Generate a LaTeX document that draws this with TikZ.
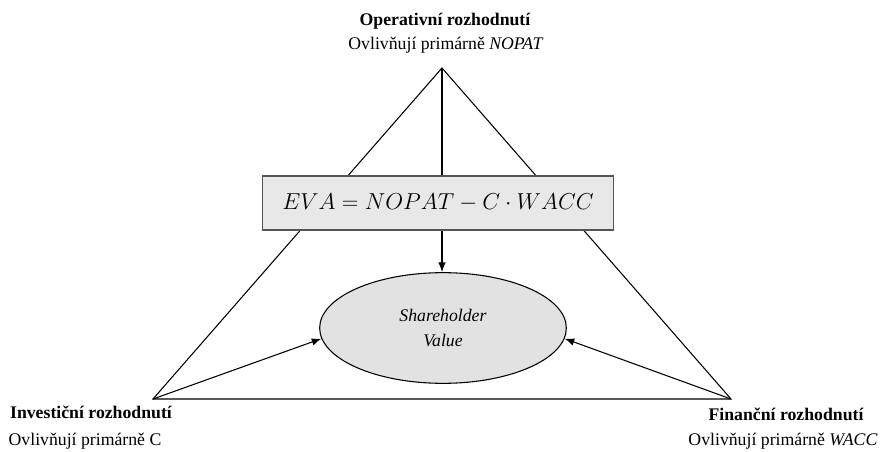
\documentclass[tikz,border=0pt]{standalone}
\usepackage{fontspec}
\setmainfont{Liberation Serif}
\usepackage{tikz}
\usetikzlibrary{arrows.meta,
shapes.geometric,
positioning
}
\tikzset{>={Latex[scale=1.1]}}
\definecolor{boxgray}{RGB}{232,232,232}
\definecolor{ellgray}{RGB}{226,226,226}
\definecolor{framegray}{RGB}{85,85,85}

\begin{document}
\begin{tikzpicture}[x=0.75pt, y=-0.75pt, line width=0.8pt,
    decision/.style={font=\fontsize{13.3}{16}\selectfont\bfseries, anchor=base},
    effect/.style={font=\fontsize{13.3}{16}\selectfont, anchor=base},
    evabox/.style={draw=framegray, fill=boxgray, minimum width=263pt, minimum height=40.5pt, inner sep=0pt, font=\LARGE},
    valueell/.style={ellipse, draw, fill=ellgray, minimum width=185pt, minimum height=83pt, inner sep=0pt, align=center, font=\fontsize{13.3}{19}\selectfont\itshape}]
    \useasboundingbox (0,0) rectangle (882,452);

    % corners of the triangle
    \coordinate (op) at (442,68);
    \coordinate (inv) at (153,399);
    \coordinate (fin) at (731,399);

    \draw (op) -- (inv) -- (fin) -- cycle;

    \node[evabox] (eva) at (438,203) {$EVA = NOPAT - C \cdot WACC$};
    \node[valueell] (sv) at (443,328) {Shareholder\\Value};

    \draw (op) -- (op |- eva.north);
    \draw[->] (op |- eva.south) -- (op |- sv.north);
    \draw[->] (inv) -- (sv.185);
    \draw[->] (fin) -- (sv.355);

    % labels
    \node[decision] (optitle) at (445,26) {Operativní rozhodnutí};
    \node[effect] (opsub) at (446,50) {Ovlivňují primárně \textit{NOPAT}};
    \node[decision] (invtitle) at (91,418) {Investiční rozhodnutí};
    \node[effect] (invsub) at (85,445) {Ovlivňují primárně C};
    \node[decision] (fintitle) at (786,420) {Finanční rozhodnutí};
    \node[effect] (finsub) at (783,445) {Ovlivňují primárně \textit{WACC}};
\end{tikzpicture}
\end{document}
